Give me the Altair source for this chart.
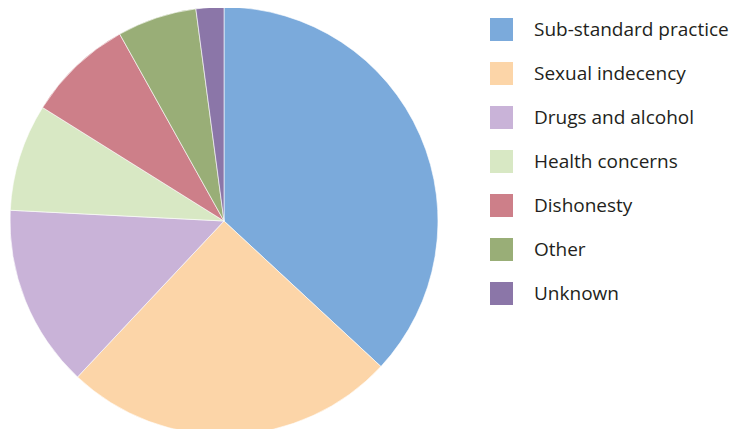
import altair as alt
import pandas as pd

categories = ["Sub-standard practice", "Sexual indecency", "Drugs and alcohol",
              "Health concerns", "Dishonesty", "Other", "Unknown"]
values = [36.9, 25.1, 13.8, 8.1, 8.0, 6.0, 2.1]
colors = ["#7BAADB", "#FCD5A8", "#C9B3D8", "#D8E8C4", "#CD7F89", "#99AE77", "#8B76A8"]

df = pd.DataFrame({"category": categories, "value": values, "order": list(range(len(categories)))})

chart = alt.Chart(df).mark_arc(radius=214, stroke="white", strokeWidth=0.6).encode(
    theta=alt.Theta("value:Q", stack=True),
    order=alt.Order("order:Q"),
    x=alt.value(216),
    y=alt.value(213),
    color=alt.Color(
        "category:N",
        scale=alt.Scale(domain=categories, range=colors),
        sort=categories,
        legend=alt.Legend(
            title=None,
            orient="none",
            legendX=482,
            legendY=10,
            symbolType="square",
            symbolSize=529,
            symbolStrokeWidth=0,
            labelFontSize=19,
            labelFont="Open Sans",
            labelColor="#231F20",
            labelOffset=21,
            rowPadding=21,
            labelLimit=300,
        ),
    ),
).properties(
    width=728, height=421, padding=0, autosize="none"
).configure_view(stroke=None)

chart.save("out.html", embed_options={"renderer": "svg", "actions": False})
